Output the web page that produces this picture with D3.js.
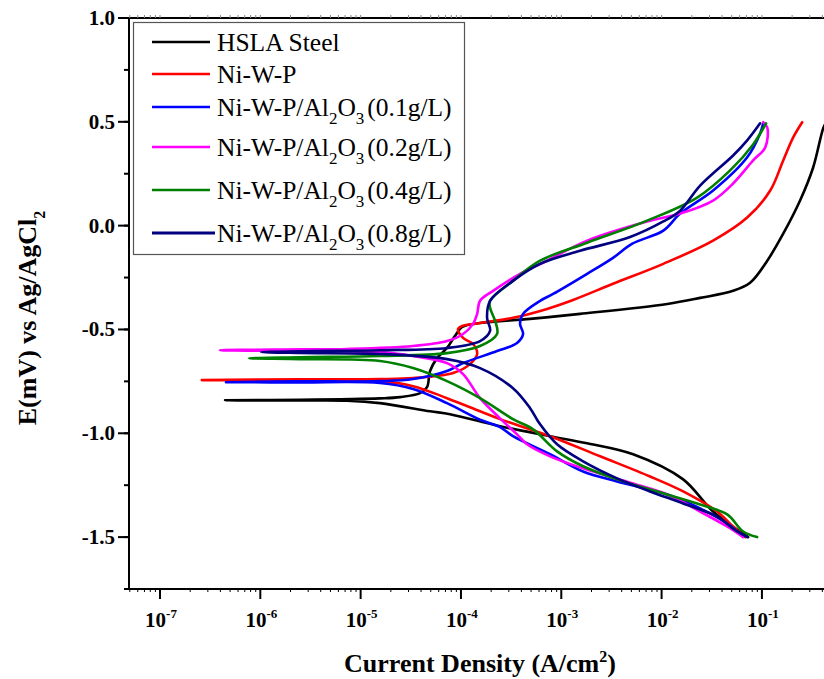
<html>
<head>
<meta charset="utf-8">
<script src="https://d3js.org/d3.v7.min.js"></script>
<style>
body { margin: 0; background: #fff; }
text { font-family: "Liberation Serif", "Times New Roman", serif; }
.tick-label { font-weight: bold; font-size: 21px; }
.axis-title { font-weight: bold; font-size: 26px; }
.legend-text { font-size: 25.5px; }
</style>
</head>
<body>
<svg width="824" height="679"></svg>
<script>
// current density (A/cm2), potential (V), cathodic end -> nose -> anodic end
var hslaSteel = [
  [7.29e-2,-1.50],[3.26e-2,-1.377],[1.64e-2,-1.222],[5.20e-3,-1.101],[1.81e-3,-1.048],
  [7.73e-4,-1.014],[2.45e-4,-0.966],[7.78e-5,-0.908],[4.92e-5,-0.894],[1.56e-5,-0.855],
  [7.31e-6,-0.843],[2.49e-6,-0.842],[4.45e-7,-0.841],[2.49e-6,-0.839],[1.56e-5,-0.832],
  [2.47e-5,-0.826],[3.91e-5,-0.807],[4.59e-5,-0.778],[4.92e-5,-0.700],[5.78e-5,-0.638],
  [7.26e-5,-0.589],[8.73e-5,-0.531],[1.03e-4,-0.488],[1.55e-4,-0.469],[4.89e-4,-0.449],
  [1.54e-3,-0.425],[1.14e-2,-0.377],[2.42e-2,-0.348],[5.16e-2,-0.314],[7.62e-2,-0.275],
  [0.113,-0.169],[0.163,-0.039],[0.240,0.121],[0.324,0.280],[0.411,0.473],[0.441,0.50]
];
var niWP = [
  [6.81e-2,-1.50],[5.16e-2,-1.449],[3.57e-2,-1.377],[1.64e-2,-1.280],[7.67e-3,-1.208],
  [2.44e-3,-1.111],[7.73e-4,-1.014],[2.45e-4,-0.932],[1.55e-4,-0.894],[7.26e-5,-0.831],
  [3.33e-5,-0.773],[1.56e-5,-0.749],[2.49e-6,-0.745],[2.61e-7,-0.744],[2.49e-6,-0.740],
  [1.56e-5,-0.739],[3.33e-5,-0.734],[8.34e-5,-0.710],[1.23e-4,-0.667],[1.45e-4,-0.618],
  [1.32e-4,-0.570],[1.05e-4,-0.541],[9.35e-5,-0.498],[1.03e-4,-0.483],[1.55e-4,-0.469],
  [3.30e-4,-0.444],[7.21e-4,-0.401],[1.31e-3,-0.358],[3.28e-3,-0.280],[1.04e-2,-0.184],
  [3.26e-2,-0.072],[7.13e-2,0.039],[0.121,0.169],[0.163,0.314],[0.205,0.425],[0.252,0.498]
];
var al01 = [
  [6.50e-2,-1.498],[4.50e-2,-1.435],[2.42e-2,-1.362],[1.14e-2,-1.295],[3.60e-3,-1.232],
  [1.65e-3,-1.184],[7.73e-4,-1.101],[3.30e-4,-1.014],[2.45e-4,-0.970],[1.55e-4,-0.935],
  [7.26e-5,-0.855],[3.33e-5,-0.787],[1.56e-5,-0.758],[2.49e-6,-0.755],[4.55e-7,-0.754],
  [2.49e-6,-0.750],[1.56e-5,-0.749],[3.33e-5,-0.739],[7.26e-5,-0.700],[1.05e-4,-0.662],
  [2.29e-4,-0.604],[3.62e-4,-0.565],[4.16e-4,-0.522],[3.88e-4,-0.473],[4.16e-4,-0.425],
  [6.15e-4,-0.362],[8.28e-4,-0.329],[1.81e-3,-0.232],[3.28e-3,-0.155],[5.10e-3,-0.087],
  [1.04e-2,-0.024],[1.53e-2,0.058],[3.26e-2,0.169],[7.13e-2,0.329],[9.59e-2,0.444],[0.103,0.493]
];
var al02 = [
  [6.50e-2,-1.50],[4.50e-2,-1.449],[2.42e-2,-1.377],[1.14e-2,-1.295],[5.20e-3,-1.242],
  [1.65e-3,-1.169],[7.73e-4,-1.111],[4.56e-4,-1.053],[3.62e-4,-1.005],[2.45e-4,-0.928],
  [1.55e-4,-0.831],[1.05e-4,-0.715],[7.26e-5,-0.662],[3.33e-5,-0.628],[1.56e-5,-0.609],
  [2.49e-6,-0.604],[3.96e-7,-0.600],[2.49e-6,-0.596],[7.31e-6,-0.594],[3.33e-5,-0.580],
  [7.26e-5,-0.556],[1.05e-4,-0.522],[1.32e-4,-0.473],[1.45e-4,-0.425],[1.55e-4,-0.362],
  [2.09e-4,-0.314],[3.88e-4,-0.232],[7.21e-4,-0.169],[1.81e-3,-0.072],[7.16e-3,0.020],
  [1.53e-2,0.058],[3.26e-2,0.121],[5.16e-2,0.203],[8.17e-2,0.314],[0.108,0.377],
  [0.113,0.473],[0.103,0.498]
];
var al04 = [
  [8.95e-2,-1.50],[6.50e-2,-1.473],[4.50e-2,-1.391],[2.42e-2,-1.343],[1.14e-2,-1.295],
  [3.60e-3,-1.222],[1.65e-3,-1.159],[9.08e-4,-1.087],[5.24e-4,-0.981],[3.30e-4,-0.932],
  [1.55e-4,-0.831],[7.26e-5,-0.749],[3.33e-5,-0.686],[1.56e-5,-0.652],[2.49e-6,-0.643],
  [7.70e-7,-0.639],[2.49e-6,-0.634],[1.56e-5,-0.628],[7.26e-5,-0.614],[1.55e-4,-0.580],
  [2.29e-4,-0.522],[2.19e-4,-0.459],[1.95e-4,-0.396],[1.95e-4,-0.362],[3.30e-4,-0.266],
  [6.15e-4,-0.169],[1.81e-3,-0.082],[7.16e-3,0.024],[2.26e-2,0.135],[4.82e-2,0.266],
  [8.17e-2,0.391],[0.110,0.493]
];
var al08 = [
  [7.13e-2,-1.50],[5.16e-2,-1.459],[3.57e-2,-1.401],[1.64e-2,-1.338],[7.67e-3,-1.280],
  [3.60e-3,-1.217],[1.65e-3,-1.135],[9.08e-4,-1.053],[6.15e-4,-0.957],[4.89e-4,-0.879],
  [3.30e-4,-0.783],[1.55e-4,-0.686],[7.26e-5,-0.643],[1.56e-5,-0.618],[2.49e-6,-0.613],
  [1.02e-6,-0.609],[2.49e-6,-0.605],[1.56e-5,-0.600],[7.26e-5,-0.589],[1.55e-4,-0.556],
  [1.95e-4,-0.507],[1.82e-4,-0.444],[1.95e-4,-0.362],[3.30e-4,-0.266],[6.15e-4,-0.184],
  [1.54e-3,-0.121],[4.85e-3,-0.055],[1.04e-2,0.020],[1.53e-2,0.072],[2.42e-2,0.193],
  [5.16e-2,0.338],[7.13e-2,0.411],[9.59e-2,0.493]
];

var seriesData = [hslaSteel, niWP, al01, al02, al04, al08];
var seriesColors = ["#000000", "#ff0000", "#0000ff", "#ff00ff", "#008000", "#000080"];
// legend names: [text before sub 2, text between, text after]
var seriesNames = [
  ["HSLA Steel"],
  ["Ni-W-P"],
  ["Ni-W-P/Al", "O", "(0.1g/L)"],
  ["Ni-W-P/Al", "O", "(0.2g/L)"],
  ["Ni-W-P/Al", "O", "(0.4g/L)"],
  ["Ni-W-P/Al", "O", "(0.8g/L)"]
];
var xTickValues = [1e-7, 1e-6, 1e-5, 1e-4, 1e-3, 1e-2, 1e-1];
var xTickExps = ["-7", "-6", "-5", "-4", "-3", "-2", "-1"];
var yTickValues = [1.0, 0.5, 0.0, -0.5, -1.0, -1.5];

var pLeft = 129, pTop = 18, pRight = 835, pBottom = 589;
var svg = d3.select("svg");

var x = d3.scaleLog().domain([4.91e-8, 0.535]).range([pLeft, pRight]);
var y = d3.scaleLinear().domain([-1.75, 1.0]).range([pBottom, pTop]);

// frame: left, bottom, top lines
svg.append("line").attr("x1", pLeft).attr("x2", pLeft).attr("y1", pTop).attr("y2", pBottom)
  .attr("stroke", "#000").attr("stroke-width", 2);
svg.append("line").attr("x1", pLeft - 1).attr("x2", 824).attr("y1", pBottom).attr("y2", pBottom)
  .attr("stroke", "#000").attr("stroke-width", 2);
svg.append("line").attr("x1", pLeft - 1).attr("x2", 824).attr("y1", pTop).attr("y2", pTop)
  .attr("stroke", "#000").attr("stroke-width", 2);

// minor x ticks
var minor = [];
for (var e = -8; e <= 0; e++) for (var m = 2; m <= 9; m++) {
  var v = m * Math.pow(10, e);
  if (v > x.domain()[0] && v < x.domain()[1]) minor.push(v);
}
svg.append("g").selectAll("line").data(minor).enter().append("line")
  .attr("x1", d => x(d)).attr("x2", d => x(d)).attr("y1", pBottom).attr("y2", pBottom + 3)
  .attr("stroke", "#000").attr("stroke-width", 1);
svg.append("g").selectAll("line").data(minor.concat(xTickValues)).enter().append("line")
  .attr("x1", d => x(d)).attr("x2", d => x(d)).attr("y1", pTop).attr("y2", pTop - 3)
  .attr("stroke", "#888").attr("stroke-width", 1);

// major x ticks + labels
svg.append("g").selectAll("line").data(xTickValues).enter().append("line")
  .attr("x1", d => x(d)).attr("x2", d => x(d)).attr("y1", pBottom).attr("y2", pBottom + 10)
  .attr("stroke", "#000").attr("stroke-width", 2);
var xl = svg.append("g").selectAll("text").data(xTickValues).enter().append("text")
  .attr("class", "tick-label").attr("x", d => x(d) + 1).attr("y", 627).attr("text-anchor", "middle");
xl.append("tspan").text("10");
xl.append("tspan").attr("dy", -9).style("font-size", "13px").text((d, i) => xTickExps[i]);

// y ticks
var yMinor = d3.range(-1.75, 1.01, 0.25);
svg.append("g").selectAll("line").data(yMinor).enter().append("line")
  .attr("x1", pLeft).attr("x2", pLeft - 5).attr("y1", d => y(d)).attr("y2", d => y(d))
  .attr("stroke", "#000").attr("stroke-width", 2);
svg.append("g").selectAll("line").data(yTickValues).enter().append("line")
  .attr("x1", pLeft).attr("x2", pLeft - 11).attr("y1", d => y(d)).attr("y2", d => y(d))
  .attr("stroke", "#000").attr("stroke-width", 2);
svg.append("g").selectAll("text").data(yTickValues).enter().append("text")
  .attr("class", "tick-label").attr("x", 115).attr("y", d => y(d) + 7).attr("text-anchor", "end")
  .text(d => d3.format(".1f")(d).replace("−", "-"));

// curves
var line = d3.line().x(d => x(d[0])).y(d => y(d[1])).curve(d3.curveCatmullRom.alpha(0.5));
svg.append("g").selectAll("path").data(seriesData).enter().append("path")
  .attr("d", line).attr("fill", "none")
  .attr("stroke", (d, i) => seriesColors[i]).attr("stroke-width", 2.6)
  .attr("stroke-linejoin", "round").attr("stroke-linecap", "round");

// legend
svg.append("rect").attr("x", 133.5).attr("y", 22.5).attr("width", 331).attr("height", 232)
  .attr("fill", "#fff").attr("stroke", "#555").attr("stroke-width", 1.2);
var legendRows = [42, 74, 107, 147, 190, 233];
seriesNames.forEach(function(parts, i) {
  var ly = legendRows[i];
  svg.append("line").attr("x1", 152).attr("x2", i == 5 ? 215 : 210).attr("y1", ly).attr("y2", ly)
    .attr("stroke", seriesColors[i]).attr("stroke-width", i == 5 ? 3.2 : 2.4);
  var t = svg.append("text").attr("class", "legend-text").attr("x", 217).attr("y", ly + 9);
  t.append("tspan").text(parts[0]);
  if (parts.length > 1) {
    t.append("tspan").attr("dy", 8).style("font-size", "17px").text("2");
    t.append("tspan").attr("dy", -8).text(parts[1]);
    t.append("tspan").attr("dy", 8).style("font-size", "17px").text("3");
    t.append("tspan").attr("dy", -8).attr("dx", 3).text(parts[2]);
  }
});

// axis titles
var xt = svg.append("text").attr("class", "axis-title").attr("x", 480).attr("y", 672).attr("text-anchor", "middle");
xt.append("tspan").text("Current Density (A/cm");
xt.append("tspan").attr("dy", -10).style("font-size", "16px").text("2");
xt.append("tspan").attr("dy", 10).text(")");

var yt = svg.append("text").attr("class", "axis-title").attr("transform", "translate(36,318) rotate(-90)")
  .attr("text-anchor", "middle");
yt.append("tspan").text("E(mV) vs Ag/AgCl");
yt.append("tspan").attr("dy", 9).style("font-size", "16px").text("2");
</script>
</body>
</html>
